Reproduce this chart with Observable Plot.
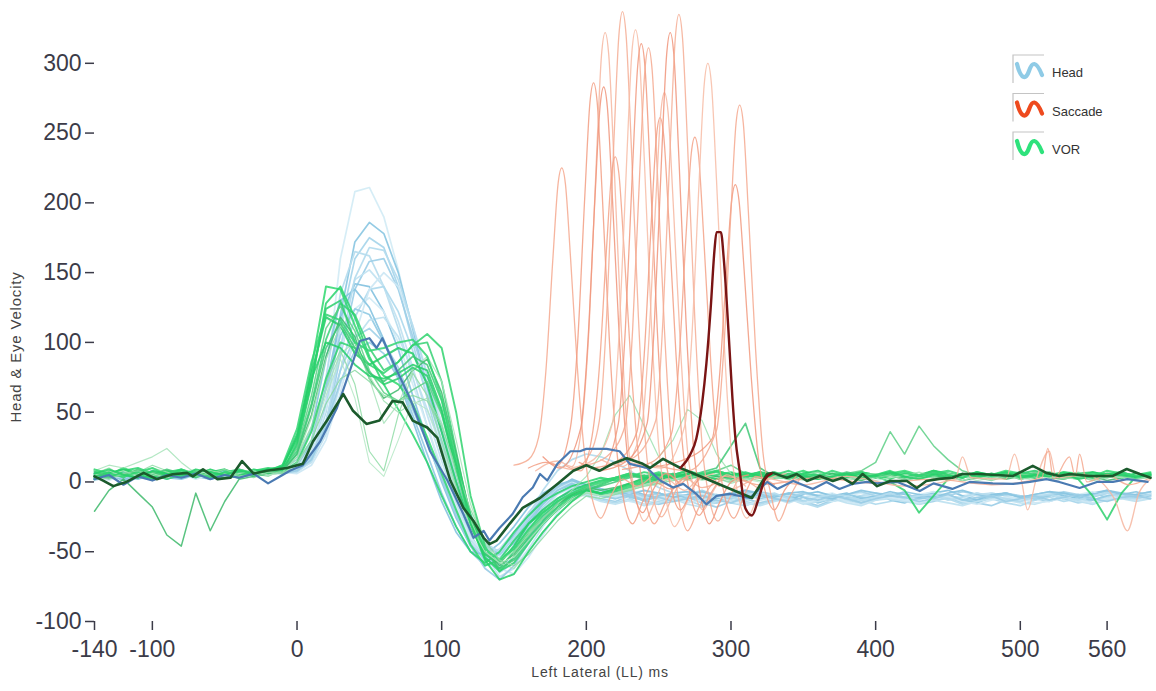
<!DOCTYPE html>
<html><head><meta charset="utf-8">
<script src="https://cdn.jsdelivr.net/npm/d3@7"></script>
<script src="https://cdn.jsdelivr.net/npm/@observablehq/plot@0.6"></script>
<style>body{margin:0;background:#fff}#chart svg{display:block}</style>
</head><body><div id="chart"></div>
<script>
// ---------- DATA ----------
const T = [-140,-130,-120,-110,-100,-90,-80,-70,-60,-50,-40,-30,-20,-10,0,10,20,30,40,50,60,70,80,90,100,110,120,130,140,150,160,170,180,190,200,210,220,230,240,250,260,270,280,290,300,310,320,330,340,350,360,370,380,390,400,410,420,430,440,450,460,470,480,490,500,510,520,530,540,550,560,570,580,590];

const head01 = [4,6,3,7,5,2,6,8,4,7,5,9,7,10, 12,25,70,160,208,211,190,152,108,66,25,-8,-32,-48,-50,-38,-24,-12,-5,-1,-4, -7,-9,-6,-10,-13,-9,-11,-14,-10,-8,-12,-15,-11,-9,-13,-10,-8,-12,-14,-10,-7,-11,-13,-9,-12,-10,-8,-11,-14,-12,-9,-10,-13,-11,-8,-10,-12,-9,-7];
const head02 = [2,5,1,4,6,3,2,5,7,4,3,6,8,9, 10,20,55,120,172,186,178,150,110,68,28,-6,-30,-45,-52,-44,-30,-16,-6,-2,-5, -8,-6,-10,-12,-8,-11,-9,-13,-15,-11,-8,-10,-12,-9,-14,-11,-9,-12,-10,-8,-13,-15,-11,-9,-10,-12,-14,-10,-8,-11,-13,-9,-12,-10,-8,-11,-9,-7,-10];
const head03 = [6,3,5,8,4,6,9,5,3,6,8,5,7,8, 8,18,50,112,160,175,168,140,100,60,20,-12,-38,-55,-58,-46,-32,-18,-8,-3,-6, -10,-12,-9,-14,-16,-12,-10,-13,-11,-15,-17,-13,-10,-12,-14,-11,-9,-13,-16,-12,-10,-14,-12,-9,-11,-15,-13,-10,-12,-14,-11,-9,-12,-15,-13,-10,-11,-13,-10];
const head04 = [1,4,7,3,2,5,4,8,6,3,5,7,6,9, 14,30,75,135,165,162,140,110,75,40,8,-20,-42,-52,-48,-36,-22,-10,-3,0,-3, -6,-9,-7,-11,-8,-12,-10,-7,-9,-13,-11,-8,-10,-12,-9,-7,-11,-14,-10,-8,-9,-12,-10,-7,-11,-13,-9,-8,-10,-12,-11,-8,-9,-13,-10,-7,-9,-11,-8];
const head05 = [5,2,6,4,8,5,3,7,5,8,6,4,7,10, 9,16,40,90,138,158,160,138,104,70,35,2,-25,-45,-60,-55,-40,-25,-12,-5,-8, -12,-14,-10,-13,-16,-14,-11,-15,-18,-14,-12,-15,-13,-10,-14,-17,-13,-11,-15,-12,-10,-13,-16,-14,-11,-12,-15,-17,-13,-10,-12,-14,-11,-13,-16,-12,-10,-12,-9];
const head06 = [3,6,4,2,5,7,4,6,8,5,4,7,9,8, 11,22,58,110,145,152,140,115,82,48,15,-15,-40,-58,-62,-50,-35,-20,-9,-4,-6, -9,-11,-8,-12,-10,-14,-12,-9,-11,-13,-10,-8,-12,-15,-11,-9,-10,-13,-11,-8,-12,-14,-10,-9,-11,-13,-12,-8,-10,-14,-12,-9,-11,-10,-13,-11,-8,-10,-9];
const head07 = [7,4,2,5,3,6,8,4,2,5,7,6,5,7, 12,28,68,118,142,140,122,95,62,30,0,-26,-46,-55,-50,-38,-24,-12,-4,2,-2, -5,-8,-6,-9,-12,-8,-7,-10,-12,-9,-6,-8,-11,-13,-9,-7,-10,-8,-12,-10,-7,-9,-11,-8,-6,-10,-13,-9,-8,-11,-9,-7,-10,-12,-8,-6,-9,-10,-8];
const head08 = [2,5,3,6,4,7,5,3,6,8,5,6,8,7, 7,15,38,80,118,138,140,122,94,62,30,0,-28,-50,-65,-58,-42,-28,-15,-7,-9, -13,-15,-12,-16,-14,-11,-13,-17,-15,-12,-14,-16,-13,-11,-15,-18,-14,-12,-13,-16,-14,-11,-15,-13,-12,-16,-14,-12,-15,-17,-13,-11,-14,-12,-15,-13,-11,-13,-12];
const head09 = [4,1,5,7,3,4,6,2,5,7,4,8,6,9, 10,20,52,95,124,132,122,100,70,40,10,-18,-40,-52,-54,-42,-28,-14,-5,0,-4, -7,-10,-8,-6,-11,-9,-12,-8,-10,-13,-9,-7,-11,-10,-8,-12,-14,-10,-8,-9,-11,-13,-9,-7,-10,-12,-8,-11,-9,-13,-10,-8,-12,-9,-7,-10,-11,-9,-8];
const head10 = [6,3,7,4,5,2,6,5,8,4,6,5,7,8, 13,30,66,105,124,120,100,76,48,20,-8,-32,-50,-60,-55,-42,-28,-15,-6,-1,-5, -9,-7,-11,-13,-10,-8,-12,-10,-14,-11,-9,-12,-10,-8,-11,-15,-12,-9,-11,-13,-10,-8,-12,-11,-9,-13,-15,-11,-9,-10,-12,-10,-8,-11,-13,-10,-9,-11,-10];
const head11 = [3,5,8,4,6,3,5,7,4,6,9,6,5,8, 8,14,34,70,102,116,118,104,80,52,24,-4,-30,-52,-68,-62,-48,-32,-18,-9,-10, -14,-16,-13,-17,-15,-12,-16,-18,-14,-13,-15,-17,-14,-12,-16,-14,-12,-15,-17,-13,-12,-14,-16,-13,-15,-17,-14,-12,-13,-15,-16,-13,-11,-14,-16,-13,-12,-14,-12];
const head12 = [5,7,4,3,6,8,5,4,7,5,3,6,8,6, 9,18,44,80,104,110,100,82,56,30,4,-22,-44,-56,-52,-40,-26,-13,-4,1,-3, -6,-9,-7,-10,-8,-11,-9,-6,-10,-12,-8,-7,-9,-11,-8,-10,-13,-9,-7,-10,-8,-11,-9,-12,-10,-7,-9,-11,-8,-10,-12,-9,-7,-9,-11,-8,-10,-9,-7];
const head13 = [2,4,6,3,5,4,7,6,3,5,7,4,6,7, 6,12,30,64,105,138,150,140,112,78,42,8,-22,-46,-62,-66,-54,-38,-22,-10,-8, -12,-10,-14,-16,-12,-11,-15,-13,-10,-14,-17,-13,-11,-12,-15,-13,-10,-14,-16,-12,-11,-13,-15,-12,-10,-14,-16,-13,-11,-12,-15,-14,-11,-13,-15,-12,-10,-13,-11];
const head14 = [4,7,5,2,6,4,3,6,5,8,6,7,9,10, 16,38,88,130,138,125,102,74,44,14,-14,-36,-50,-52,-44,-32,-18,-8,-2,1,-2, -5,-7,-9,-6,-8,-11,-9,-7,-10,-8,-6,-9,-11,-8,-7,-10,-12,-9,-6,-8,-10,-7,-9,-11,-8,-6,-9,-10,-8,-11,-9,-7,-8,-10,-9,-6,-8,-9,-7];
const head15 = [6,4,3,7,5,8,4,6,3,5,8,7,6,9, 9,17,42,96,146,168,166,145,112,76,38,4,-24,-44,-50,-40,-24,-6,8,16,20, 18,14,8,2,-4,-8,-10,-12,-9,-11,-13,-10,-8,-12,-14,-11,-9,-10,-13,-11,-8,-12,-10,-9,-13,-11,-8,-10,-12,-14,-10,-9,-11,-13,-10,-8,-11,-12,-9];
const head16 = [3,6,4,5,8,6,4,7,5,3,6,8,7,6, 8,16,40,72,94,100,92,74,52,28,2,-24,-46,-62,-70,-60,-44,-28,-14,-6,-7, -10,-12,-9,-13,-11,-14,-12,-10,-13,-15,-11,-9,-12,-14,-11,-13,-10,-12,-15,-12,-10,-11,-14,-12,-9,-13,-11,-10,-14,-12,-10,-13,-11,-9,-12,-14,-11,-10,-12];
const headTraces = [head01,head02,head03,head04,head05,head06,head07,head08,head09,head10,head11,head12,head13,head14,head15,head16];

const vor01 = [8,5,10,6,3,7,9,5,8,6,4,9,7,12, 30,82,140,138,112,88,76,70,56,32,6,-20,-45,-60,-56,-42,-30,-22,-14,-9,-5, -8,-6,-3,0,2,4,6,3,5,7,4,6,3,5,8,4,6,5,7,4,6,8,5,3,6,4,7,5,8,6,4,5,7,6,4,8,6,5,7];
const vor02 = [4,7,3,9,6,2,5,8,6,3,7,5,8,10, 22,56,102,128,120,96,80,86,98,100,72,22,-28,-55,-62,-50,-36,-24,-16,-10,-6, -9,-7,-4,-1,1,5,3,6,4,2,5,7,4,3,6,5,2,4,7,5,3,6,4,8,5,3,6,4,5,7,3,6,5,4,7,5,3,6,5];
const vor03 = [6,10,4,7,12,8,3,6,9,5,8,6,4,9, 18,40,72,94,70,22,8,48,78,62,30,-4,-30,-48,-55,-48,-36,-26,-18,-12,-8, -10,-8,-5,-2,-1,3,5,2,4,1,3,6,2,4,5,3,1,4,6,3,5,2,4,6,3,5,4,2,6,3,5,4,6,3,2,5,4,6,3];
const vor04 = [2,6,9,5,3,8,6,4,7,9,5,7,6,11, 34,78,118,112,92,84,90,96,92,70,36,0,-32,-52,-58,-46,-30,-20,-12,-6,-2, 1,3,6,4,2,5,8,5,3,6,4,7,5,3,6,8,4,5,7,4,6,3,5,8,6,4,7,5,3,6,8,5,4,6,7,5,3,6,4];
const vor05 = [-21,-6,2,-8,-18,-38,-46,-8,-35,-14,2,4,6,8, 20,48,90,118,104,74,60,66,80,88,64,20,-24,-50,-60,-52,-38,-26,-16,-9,-4, -6,-4,-1,3,1,4,6,2,4,3,1,5,7,3,2,4,6,3,1,4,5,2,3,6,4,1,3,5,2,4,6,3,2,5,4,1,3,5,3];
const vor06 = [5,3,8,10,6,4,7,5,9,6,3,8,10,9, 26,70,128,140,118,90,70,52,34,14,-10,-32,-50,-58,-50,-36,-24,-14,-8,-3,0, 3,1,4,7,5,2,6,4,8,5,3,6,4,2,5,7,4,6,3,5,8,4,2,6,5,3,7,4,6,2,5,4,7,5,3,6,4,5,6];
const vor07 = [8,12,10,14,18,24,14,6,8,5,9,7,5,8, 16,36,66,92,100,74,42,56,80,90,72,30,-16,-44,-58,-62,-50,-36,-24,-14,-8, -10,-8,-5,-2,1,3,1,5,3,-1,2,4,6,3,5,2,4,1,3,6,4,2,5,3,6,4,1,3,5,2,4,6,3,5,2,4,3,5,4];
const vor08 = [4,8,6,3,7,5,9,6,4,7,5,8,9,7, 14,36,74,100,96,84,78,86,98,106,96,50,-10,-46,-64,-58,-44,-30,-20,-12,-6, -8,-5,-2,1,3,5,8,4,2,6,5,3,7,4,6,5,3,4,7,5,2,6,4,8,5,3,6,4,7,5,3,6,4,5,3,6,7,4,5];
const vor09 = [6,3,5,9,7,4,6,8,3,5,9,6,8,10, 24,62,110,126,108,80,64,58,66,72,48,10,-26,-50,-58,-48,-34,-22,-14,-8,-4, -1,3,5,2,4,6,3,5,8,12,6,4,3,6,4,5,3,6,8,14,36,20,40,26,16,8,5,3,6,4,7,5,3,6,4,5,7,4,5];
const vor10 = [3,6,9,5,2,6,8,4,7,5,3,7,9,8, 28,72,124,130,100,78,70,74,82,76,50,8,-30,-54,-64,-54,-40,-28,-18,-10,-6, -2,2,5,3,6,4,2,5,7,4,6,3,5,8,4,2,5,3,6,4,0,-6,-22,-10,2,5,3,6,4,5,3,6,4,2,-10,-27,-8,4,5];
const vor11 = [5,8,4,6,10,7,3,5,8,6,4,6,8,7, 18,46,88,112,100,76,58,50,56,60,42,6,-28,-48,-56,-50,-38,-26,-16,-6,4, 20,48,62,40,18,30,52,44,20,6,2,4,6,3,5,7,4,2,5,6,3,5,7,4,2,5,6,3,4,6,5,3,5,7,4,6,3,5,4];
const vor12 = [7,4,6,8,5,9,6,3,7,5,8,4,6,9, 20,54,96,114,96,78,72,80,90,84,58,14,-24,-50,-62,-56,-42,-30,-20,-12,-6, -3,0,3,5,2,6,4,7,10,26,42,10,4,6,3,5,4,7,5,3,6,4,5,7,3,6,4,5,6,3,5,7,4,6,5,3,6,4,5];
const vor13 = [2,5,8,4,6,3,7,9,5,4,6,8,5,6, 12,30,62,88,60,14,4,30,58,52,26,-6,-32,-50,-58,-54,-42,-30,-20,-12,-7, -10,-9,-6,-3,-2,2,4,1,3,5,2,0,3,4,1,3,5,2,4,1,3,5,2,4,3,1,4,2,5,3,1,4,3,2,4,5,3,2,4];
const vor14 = [9,6,4,7,10,5,8,6,3,7,9,6,8,12, 38,86,120,116,100,94,96,100,102,90,60,16,-24,-48,-56,-48,-34,-22,-14,-8,-3, 0,3,6,4,7,5,3,6,8,5,4,7,5,3,6,4,8,5,6,3,5,7,4,6,8,5,3,6,4,7,5,6,4,3,6,5,7,4,6];
const vor15 = [4,2,6,8,5,3,7,4,6,9,5,3,7,6, 14,30,56,74,80,72,62,58,62,58,40,10,-20,-42,-56,-60,-52,-40,-28,-18,-10, -12,-9,-6,-3,-1,1,3,5,2,0,3,1,4,2,5,3,1,4,2,3,5,1,3,4,2,5,3,1,4,2,3,5,2,4,1,3,4,2,3];
const vor16 = [6,9,5,3,8,6,4,9,7,5,8,6,9,11, 32,74,100,96,84,76,74,78,84,80,52,12,-30,-56,-70,-66,-50,-36,-24,-14,-6, -8,-5,-1,2,5,3,6,4,2,5,7,4,6,3,5,2,4,6,3,5,7,4,2,5,3,6,4,5,7,3,5,4,6,2,4,6,5,3,5];
const vorTraces = [vor01,vor02,vor03,vor04,vor05,vor06,vor07,vor08,vor09,vor10,vor11,vor12,vor13,vor14,vor15,vor16];

// saccade trials: [time ms, velocity]
const sac01 = [[150,12],[160,16],[167,32],[172,79],[177,162],[180.5,214],[183,225],[185.5,214],[189,162],[194,79],[199,18],[204,-12],[210,-26],[217,-10],[225,2],[235,-3],[245,4]];
const sac02 = [[160,10],[172,14],[180,12],[189,39],[194,100],[199,206],[202.5,272],[205,286],[207.5,272],[211,206],[216,100],[221,23],[226,-14],[232,-30],[239,-14],[247,0],[258,-5],[270,3]];
const sac03 = [[165,8],[180,15],[190,11],[197,42],[202,113],[207,232],[210.5,306],[213,322],[215.5,306],[219,232],[224,113],[229,26],[234,-10],[240,-28],[247,-15],[255,2],[268,-6],[280,4],[300,-5],[320,3],[350,-2],[380,4],[420,-3],[455,2],[460,18],[466,3],[490,2],[496,20],[501,0],[505,-20],[511,2],[520,22],[525,3],[545,5],[565,-12],[574,-35],[582,-8],[590,2]];
const sac04 = [[170,18],[182,10],[196,38],[201,99],[206,204],[209.5,269],[212,283],[214.5,269],[218,204],[223,99],[228,23],[233,-8],[239,-22],[246,-6],[255,6],[265,-2]];
const sac05 = [[175,14],[190,9],[200,16],[209,44],[214,118],[219,243],[222.5,320],[225,337],[227.5,320],[231,243],[236,118],[241,27],[246,-10],[252,-25],[259,-12],[268,3],[280,-4],[295,2]];
const sac06 = [[185,12],[196,8],[204,33],[209,82],[214,168],[217.5,221],[220,233],[222.5,221],[226,168],[231,82],[236,19],[241,-14],[247,-30],[254,-16],[262,-2],[272,5]];
const sac07 = [[190,10],[205,16],[218,42],[223,113],[228,233],[231.5,308],[234,324],[236.5,308],[240,233],[245,113],[250,26],[255,-12],[261,-32],[268,-18],[276,0],[288,6]];
const sac08 = [[195,14],[210,9],[222,41],[227,110],[232,226],[235.5,298],[238,314],[240.5,298],[244,226],[249,110],[254,25],[259,-6],[265,-20],[272,-8],[280,4],[292,-3]];
const sac09 = [[200,12],[214,18],[227,41],[232,109],[237,224],[240.5,295],[243,311],[245.5,295],[249,224],[254,109],[259,25],[264,-14],[270,-35],[277,-20],[285,-4],[296,4],[320,-2],[360,3],[400,-1],[440,2],[480,-2],[515,3],[519,24],[523,2],[534,18],[538,4],[541,20],[546,0],[560,5],[575,-2],[590,3]];
const sac10 = [[205,10],[220,14],[235,36],[240,91],[245,188],[248.5,248],[251,261],[253.5,248],[257,188],[262,91],[267,21],[272,-10],[278,-24],[285,-10],[293,3]];
const sac11 = [[210,16],[225,11],[238,38],[243,98],[248,201],[251.5,265],[254,279],[256.5,265],[260,201],[265,98],[270,22],[275,-8],[281,-20],[288,-6],[297,5],[310,-3]];
const sac12 = [[210,8],[228,15],[242,42],[247,113],[252,232],[255.5,306],[258,322],[260.5,306],[264,232],[269,113],[274,26],[279,-10],[285,-30],[292,-15],[300,0],[312,5]];
const sac13 = [[215,12],[232,17],[248,44],[253,117],[258,241],[261.5,318],[264,335],[266.5,318],[270,241],[275,117],[280,27],[285,-12],[291,-28],[298,-14],[306,2],[318,-4]];
const sac14 = [[225,9],[245,14],[259,35],[264,86],[269,178],[272.5,235],[275,247],[277.5,235],[281,178],[286,86],[291,20],[296,-12],[302,-26],[309,-10],[317,4],[330,-2]];
const sac15 = [[230,14],[252,10],[268,40],[273,105],[278,216],[281.5,285],[284,300],[286.5,285],[290,216],[295,105],[300,24],[305,-10],[311,-26],[318,-12],[326,2],[338,6]];
const sac16 = [[240,10],[265,15],[287,31],[292,75],[297,153],[300.5,202],[303,213],[305.5,202],[309,153],[314,75],[319,17],[324,-8],[330,-20],[337,-6],[345,4]];
const sac17 = [[245,13],[270,8],[290,37],[295,95],[300,194],[303.5,257],[306,270],[308.5,257],[312,194],[317,95],[322,22],[327,-6],[333,-28],[340,-12],[348,3]];
const saccadeTraces = [sac01,sac02,sac03,sac04,sac05,sac06,sac07,sac08,sac09,sac10,sac11,sac12,sac13,sac14,sac15,sac16,sac17];

// highlighted trial
const headHighlight = [[-140,2],[-130,5],[-120,-2],[-110,4],[-100,1],[-90,5],[-80,3],[-70,6],[-60,2],[-50,5],[-40,3],[-30,6],[-20,-1],[-10,5],[-5,8],[4,12],[16,29],[27.6,53],[36.6,80],[43.5,101],[50,103],[55,96],[59,103],[69,80],[78,60],[87,36],[92,22],[104,1],[115,-23],[122,-40],[129,-35],[133,-42],[140,-33],[149,-23],[156,-11],[163,-4],[168,5.7],[173,1],[180,13],[184,17],[189,22],[195.6,22],[200,23.7],[214,23.7],[223,22],[230,13],[242,10],[251,1],[260,-4],[267,-1.4],[276,-8.6],[283,-16],[290,-10],[299,-8.6],[313,-11.5],[325,0],[332,-5],[343,0.7],[356.6,-5],[366,0],[375,-5],[384,-1.4],[394,0],[401,-1],[415,0],[430.5,-6.5],[440,-1],[453,-5],[465,0],[481,-1],[495,-1.4],[506.6,0],[518,2],[527,0],[541,-4.3],[553,0],[564,0],[574,2],[588,0]];
const vorHighlight = [[-140,4],[-134,1],[-127,-3],[-118,0],[-106,6.5],[-97,2],[-86,5.5],[-76,6.5],[-72,4],[-65,9],[-55,2],[-46,3],[-38,15],[-30,6],[-21,8],[-7,10],[4,13],[11,29],[20.7,44],[32,63],[38.7,51],[48,41.6],[57,44],[66,58],[73,57],[80,44],[90,39],[97,31.6],[106,1],[115,-18.6],[122,-28],[129,-40],[133,-44.5],[138,-42],[147,-30],[156,-18.6],[168,-11.5],[180,-1.4],[191,8],[200,12],[209,8],[218,13],[228,17],[239,13],[244,10],[253,16.5],[265,10],[314.5,-11.5],[325,5.7],[329,6.5],[338.6,3],[345.5,5.7],[352.5,0.7],[361.4,4.3],[370.4,0.7],[377,3],[384,-1.4],[391,5.7],[401,-3],[410,0.7],[421.6,0.7],[428.5,-4.3],[435,0.7],[444,2.2],[453,3],[460,5.7],[472,5.7],[495,4.3],[508.6,11.5],[518,6.5],[527,4.3],[534,5.7],[548,4.3],[564,4.3],[573.6,9.3],[582.6,5.7],[590,3]];
const saccadeHighlight = [[265,10],[272,20],[276,31],[280,56],[283,85],[286,125],[288.5,165],[290,179],[293,179],[295,160],[297,130],[299,95],[301,60],[303,32],[306,8],[310,-19],[314.5,-24],[318.6,-13.6],[323.5,2],[328,6]];

const xTicks = [-140,-100,0,100,200,300,400,500,560];
const yTicks = [-100,-50,0,50,100,150,200,250,300];
const legendLabels = ["Head","Saccade","VOR"];
const xTitle = "Left Lateral (LL) ms";
const yTitle = "Head & Eye Velocity";

// ---------- STYLES ----------
const headColors = ["#d4ecf6","#8ec8e3","#a9d6eb","#b8ddee","#9fd0e8","#c2e3f1","#88c4e0","#b0daed","#d2ebf5","#96cce5","#bfe1f0","#a4d3e9","#cde8f4","#8bc6e1","#b5dcee","#9ccee6"];
const vorColors = ["#2fd86f","#36d174","#8fdca6","#22cc66","#3cb86a","#28d46c","#a6e3b8","#30d36f","#5ccf85","#2bd06c","#9ee0b0","#3fc877","#b4e8c4","#33d673","#8ad9a2","#25cf68"];
const vorWidths = [2.0,1.8,1.2,2.1,1.5,1.9,1.2,1.9,1.5,1.9,1.2,1.7,1.1,2.0,1.2,1.9];
const sacColors = ["#f4a88e","#f29e82","#f6b6a0","#f0947a","#f5ad94","#f3a287","#f7bca6","#f1997e"];
const legendColors = ["#8fcbe6","#ee4a1e","#2ee27c"];

T.length === 74 || console.warn("T length", T.length);
headTraces.forEach((a,i)=>a.length!==74&&console.warn("head",i,a.length));
vorTraces.forEach((a,i)=>a.length!==74&&console.warn("vor",i,a.length));

const gridRows = vals => vals.map((v,i)=>({t:T[i], v}));
const pairRows = pts => pts.map(([t,v])=>({t, v}));

const marks = [];
headTraces.forEach((vals,k)=>marks.push(Plot.line(gridRows(vals),{x:"t",y:"v",stroke:headColors[k],strokeWidth:1.7,strokeOpacity:0.95})));
vorTraces.forEach((vals,k)=>marks.push(Plot.line(gridRows(vals),{x:"t",y:"v",stroke:vorColors[k],strokeWidth:vorWidths[k],strokeOpacity:0.85})));
saccadeTraces.forEach((pts,k)=>marks.push(Plot.line(pairRows(pts),{x:"t",y:"v",stroke:sacColors[k%sacColors.length],strokeWidth:1.3,strokeOpacity:0.85,curve:"monotone-x"})));
marks.push(Plot.line(pairRows(headHighlight),{x:"t",y:"v",stroke:"#4a7ab2",strokeWidth:2.2}));
marks.push(Plot.line(pairRows(vorHighlight),{x:"t",y:"v",stroke:"#1b5a2c",strokeWidth:2.6}));
marks.push(Plot.line(pairRows(saccadeHighlight),{x:"t",y:"v",stroke:"#7a1414",strokeWidth:2.4,curve:"monotone-x"}));
marks.push(Plot.axisX({ticks:xTicks,tickFormat:d=>String(d),tickSize:9,tickPadding:10,label:null,strokeWidth:1.5}));
marks.push(Plot.axisY({ticks:yTicks,tickFormat:d=>String(d),tickSize:9,tickPadding:4,label:null,strokeWidth:1.5}));

const plot = Plot.plot({
  width:1156, height:691,
  marginLeft:94, marginRight:6, marginTop:0, marginBottom:70,
  style:{fontFamily:"'Liberation Sans', Arial, sans-serif", fontSize:"23px", color:"#3b3b48", background:"#fff", overflow:"visible"},
  x:{domain:[-140,590]},
  y:{domain:[-100,345]},
  marks
});
document.getElementById("chart").append(plot);

const svg = d3.select(plot);
svg.append("text").attr("x",600).attr("y",677).attr("text-anchor","middle")
  .attr("font-size",14).attr("letter-spacing","0.8px").attr("fill","#444").text(xTitle);
svg.append("text").attr("transform","translate(21,347) rotate(-90)").attr("text-anchor","middle")
  .attr("font-size",15).attr("letter-spacing","0.8px").attr("fill","#444").text(yTitle);

const lg = svg.append("g").attr("text-anchor","start");
const legendTops = [55,93.5,132];
legendLabels.forEach((lab,i)=>{
  const y0 = legendTops[i];
  lg.append("path").attr("d",`M1013,${y0+28}V${y0}H1044`).attr("fill","none").attr("stroke","#c4c4c4").attr("stroke-width",1.2);
  lg.append("path").attr("d",`M1017,${y0+9} C1021,${y0+25} 1026,${y0+25} 1029,${y0+16} S1036,${y0+5} 1042,${y0+20}`)
    .attr("fill","none").attr("stroke",legendColors[i]).attr("stroke-width",4.2).attr("stroke-linecap","round");
  lg.append("text").attr("x",1052).attr("y",y0+22).attr("text-anchor","start").attr("font-size",13).attr("fill","#333").text(lab);
});
</script>
</body></html>
